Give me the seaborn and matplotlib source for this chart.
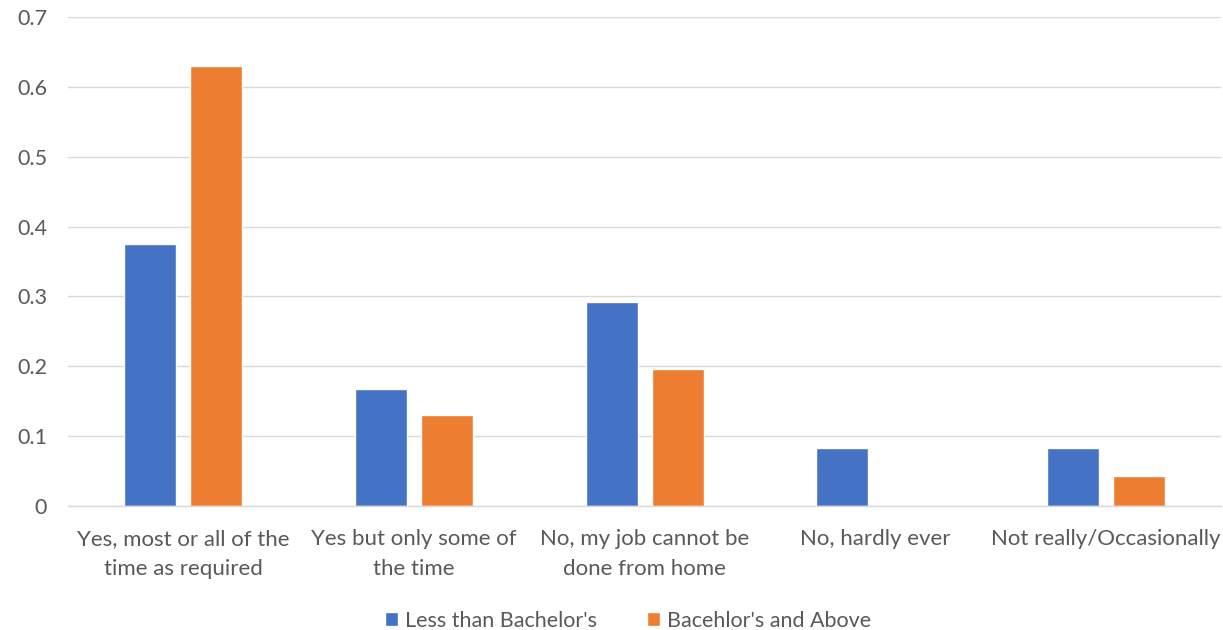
import pandas as pd
import matplotlib.pyplot as plt
import seaborn as sns

categories = [
    "Yes, most or all of the\ntime as required",
    "Yes but only some of\nthe time",
    "No, my job cannot be\ndone from home",
    "No, hardly ever",
    "Not really/Occasionally",
]
less_than_bachelors = [0.375, 0.167, 0.292, 0.083, 0.083]
bachelors_and_above = [0.630, 0.130, 0.196, 0.0, 0.043]
series_names = ["Less than Bachelor's", "Bacehlor's and Above"]

df = pd.DataFrame({
    "category": categories * 2,
    "value": less_than_bachelors + bachelors_and_above,
    "group": [series_names[0]] * 5 + [series_names[1]] * 5,
})

sns.set_style("white")
plt.rcParams['font.family'] = ['Lato', 'DejaVu Sans']
text_color = '#595959'

fig = plt.figure(figsize=(12.23, 6.30), dpi=100)
ax = fig.add_axes([0.0556, 0.197, 0.943, 0.776])

colors = {series_names[0]: '#4472C4', series_names[1]: '#ED7D31'}
sns.barplot(data=df, x="category", y="value", hue="group", palette=colors,
            width=0.572, gap=0.212, ax=ax, saturation=1, legend=True)

ax.set_ylim(0, 0.7)
ax.set_xlim(-0.5, 4.5)
ax.set_yticks([0, 0.1, 0.2, 0.3, 0.4, 0.5, 0.6, 0.7])
ax.set_yticklabels(["0", "0.1", "0.2", "0.3", "0.4", "0.5", "0.6", "0.7"])
ax.yaxis.grid(True, color='#D9D9D9', linewidth=1)
ax.set_axisbelow(True)
for s in ['top', 'right', 'left']:
    ax.spines[s].set_visible(False)
ax.spines['bottom'].set_color('#D9D9D9')
ax.spines['bottom'].set_linewidth(1)
ax.tick_params(axis='y', length=0, labelsize=15.5, colors=text_color, pad=15)
ax.tick_params(axis='x', length=0, labelsize=16, colors=text_color, pad=16.5)
for lbl in ax.get_xticklabels():
    lbl.set_linespacing(1.65)
ax.set_xlabel("")
ax.set_ylabel("")

ax.legend(loc='lower center', bbox_to_anchor=(0.4856, -0.295), ncol=2, frameon=False,
          fontsize=15.5, labelcolor=text_color, handlelength=0.6, handleheight=0.6,
          handletextpad=0.35, columnspacing=2.3)

plt.savefig("out.png", dpi=100)
plt.close()
